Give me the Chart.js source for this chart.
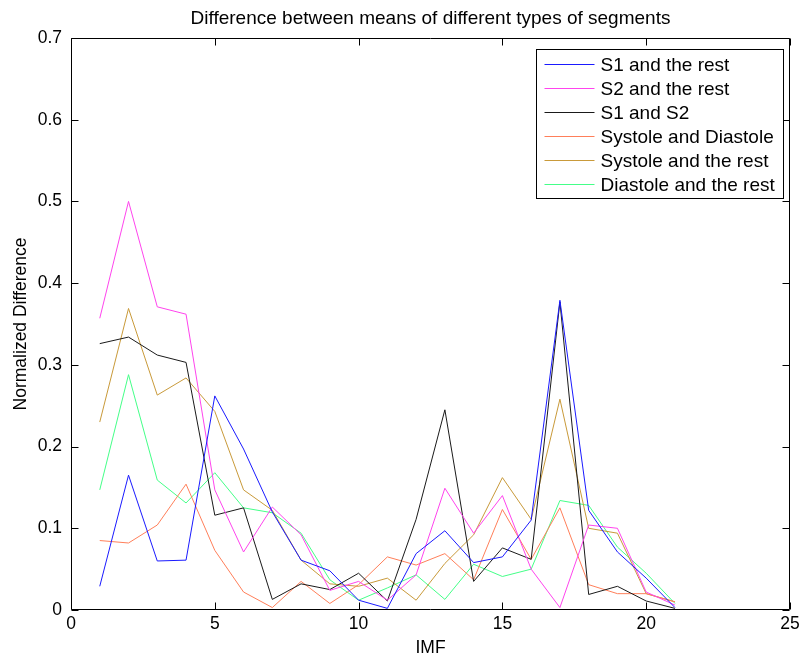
<!DOCTYPE html>
<html>
<head>
<meta charset="utf-8">
<title>IMF mean differences</title>
<script src="https://cdn.jsdelivr.net/npm/chart.js@4.4.1/dist/chart.umd.min.js"></script>
<style>
  html, body { margin: 0; padding: 0; background: #fff; }
  canvas { display: block; }
</style>
</head>
<body>
<canvas id="imfChart" width="804" height="659"></canvas>
<script>
// IMF index on the x axis
const imf = [1, 2, 3, 4, 5, 6, 7, 8, 9, 10, 11, 12, 13, 14, 15, 16, 17, 18, 19, 20, 21];

// normalized difference per IMF, one array per pair of segment types
const s1VsRest = [0.029, 0.165, 0.060, 0.061, 0.262, 0.197, 0.120, 0.061, 0.048, 0.012, 0.002,
  0.069, 0.097, 0.058, 0.065, 0.110, 0.379, 0.122, 0.071, 0.039, 0.003];
const s2VsRest = [0.357, 0.500, 0.371, 0.362, 0.147, 0.071, 0.126, 0.092, 0.024, 0.035, 0.012,
  0.043, 0.149, 0.094, 0.140, 0.050, 0.003, 0.104, 0.100, 0.022, 0.006];
const s1VsS2 = [0.326, 0.334, 0.312, 0.303, 0.116, 0.125, 0.013, 0.032, 0.025, 0.045, 0.011,
  0.111, 0.245, 0.035, 0.076, 0.062, 0.377, 0.019, 0.029, 0.011, 0.002];
const systoleVsDiastole = [0.085, 0.082, 0.104, 0.154, 0.073, 0.022, 0.003, 0.035, 0.008, 0.031, 0.065,
  0.055, 0.069, 0.037, 0.123, 0.062, 0.125, 0.031, 0.020, 0.020, 0.010];
const systoleVsRest = [0.230, 0.369, 0.263, 0.284, 0.243, 0.147, 0.122, 0.061, 0.032, 0.029, 0.039,
  0.012, 0.057, 0.092, 0.162, 0.111, 0.258, 0.100, 0.094, 0.020, 0.010];
const diastoleVsRest = [0.147, 0.288, 0.159, 0.131, 0.168, 0.125, 0.119, 0.094, 0.037, 0.012, 0.027,
  0.043, 0.013, 0.056, 0.041, 0.050, 0.134, 0.128, 0.077, 0.045, 0.008];

const seriesNames = ['S1 and the rest', 'S2 and the rest', 'S1 and S2',
  'Systole and Diastole', 'Systole and the rest', 'Diastole and the rest'];

const FONT = 'Liberation Sans, Arial, sans-serif';

const toPoints = (vals) => imf.map((x, i) => ({ x: x, y: vals[i] }));

const makeSet = (label, vals, color) => ({
  label: label,
  data: toPoints(vals),
  borderColor: color,
  backgroundColor: color,
  borderWidth: 1,
  pointRadius: 0,
  tension: 0,
  fill: false
});

// white page, box round the plot and inward tick marks on all four sides
const frameTicks = {
  id: 'frameTicks',
  beforeDraw(chart) {
    const ctx = chart.ctx;
    ctx.save();
    ctx.fillStyle = '#fff';
    ctx.fillRect(0, 0, chart.width, chart.height);
    ctx.restore();
  },
  afterDatasetsDraw(chart) {
    const { ctx, chartArea: a, scales } = chart;
    const len = 7;
    const L = Math.round(a.left) + 0.5;
    const R = Math.round(a.right) - 0.5;
    const T = Math.round(a.top) + 0.5;
    const B = Math.round(a.bottom) - 0.5;
    ctx.save();
    ctx.strokeStyle = '#000';
    ctx.lineWidth = 1;
    ctx.beginPath();
    ctx.rect(L, T, R - L, B - T);
    scales.x.ticks.forEach(t => {
      const px = Math.round(scales.x.getPixelForValue(t.value)) + 0.5;
      ctx.moveTo(px, B); ctx.lineTo(px, B - len);
      ctx.moveTo(px, T); ctx.lineTo(px, T + len);
    });
    scales.y.ticks.forEach(t => {
      const py = Math.round(scales.y.getPixelForValue(t.value)) + 0.5;
      ctx.moveTo(L, py); ctx.lineTo(L + len, py);
      ctx.moveTo(R, py); ctx.lineTo(R - len, py);
    });
    ctx.stroke();
    ctx.restore();
  },
  afterDraw(chart) {
    const { ctx, chartArea: a } = chart;
    ctx.save();
    // title centred over the plot
    ctx.fillStyle = '#000';
    ctx.font = '19px ' + FONT;
    ctx.textAlign = 'center';
    ctx.textBaseline = 'alphabetic';
    ctx.fillText('Difference between means of different types of segments', (a.left + a.right) / 2, 24);

    // legend box in the upper right corner
    const bx = Math.round(a.right) - 253.5;
    const by = Math.round(a.top) + 11.5;
    const bw = 247;
    const bh = 149;
    ctx.fillStyle = '#fff';
    ctx.fillRect(bx, by, bw, bh);
    ctx.strokeStyle = '#000';
    ctx.lineWidth = 1;
    ctx.strokeRect(bx, by, bw, bh);
    ctx.textAlign = 'left';
    ctx.font = '19px ' + FONT;
    chart.data.datasets.forEach((ds, i) => {
      const rowY = by + 14 + i * 24;
      ctx.strokeStyle = ds.borderColor;
      ctx.beginPath();
      ctx.moveTo(bx + 8, Math.round(rowY) + 0.5);
      ctx.lineTo(bx + 58, Math.round(rowY) + 0.5);
      ctx.stroke();
      ctx.fillStyle = '#000';
      ctx.fillText(ds.label, bx + 64, rowY + 7);
    });
    ctx.restore();
  }
};

new Chart(document.getElementById('imfChart'), {
  type: 'line',
  data: {
    datasets: [
      makeSet(seriesNames[0], s1VsRest, '#1a1aff'),
      makeSet(seriesNames[1], s2VsRest, '#ff44ee'),
      makeSet(seriesNames[2], s1VsS2, '#1a1a1a'),
      makeSet(seriesNames[3], systoleVsDiastole, '#ff7f5a'),
      makeSet(seriesNames[4], systoleVsRest, '#c99a3a'),
      makeSet(seriesNames[5], diastoleVsRest, '#44ff88')
    ]
  },
  options: {
    responsive: false,
    animation: false,
    events: [],
    layout: { padding: { top: 38, right: 14, left: 0, bottom: 0 } },
    plugins: {
      legend: { display: false },
      tooltip: { enabled: false },
      title: { display: false }
    },
    scales: {
      x: {
        type: 'linear',
        min: 0,
        max: 25,
        border: { display: false },
        grid: { display: false, drawTicks: false },
        ticks: {
          stepSize: 5,
          padding: 4,
          color: '#000',
          maxRotation: 0,
          font: { family: FONT, size: 17.5 }
        },
        title: {
          display: true,
          text: 'IMF',
          color: '#000',
          padding: { top: 0, bottom: 0 },
          font: { family: FONT, size: 17.5 }
        },
        afterFit(scale) { scale.height = 49; }
      },
      y: {
        min: 0,
        max: 0.7,
        border: { display: false },
        grid: { display: false, drawTicks: false },
        ticks: {
          stepSize: 0.1,
          padding: 9,
          color: '#000',
          font: { family: FONT, size: 17.5 },
          callback: (v) => String(Math.round(v * 10) / 10)
        },
        title: {
          display: true,
          text: 'Normalized Difference',
          color: '#000',
          padding: { top: 11, bottom: 0 },
          font: { family: FONT, size: 17.5 }
        },
        afterFit(scale) { scale.width = 71; }
      }
    }
  },
  plugins: [frameTicks]
});
</script>
</body>
</html>
